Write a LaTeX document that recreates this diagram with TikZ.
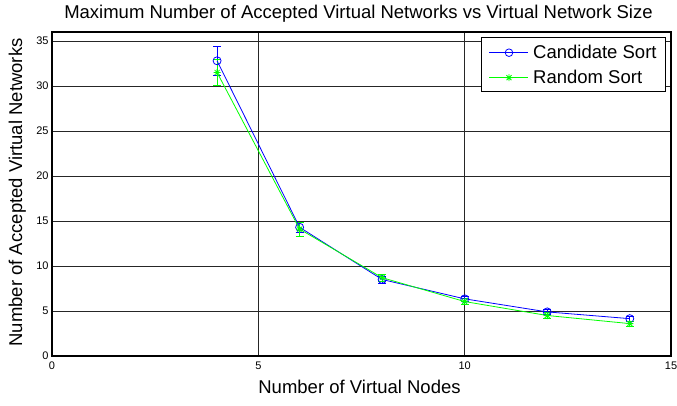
\documentclass[tikz,border=0pt]{standalone}
\usepackage{fontspec}
\setmainfont{Liberation Sans}
\begin{document}
\begin{tikzpicture}[x=1pt,y=1pt,
  gridline/.style={black!85,line width=0.6pt},
  frame/.style={black,line width=1.2pt},
  bl/.style={blue,line width=0.8pt},
  gr/.style={green,line width=0.8pt},
  ticklab/.style={font=\fontsize{11}{13}\selectfont, inner sep=0pt},
  biglab/.style={font=\fontsize{18.5}{21}\selectfont, inner sep=0pt}]
\useasboundingbox (0,0) rectangle (677,405);
\fill[white] (0,0) rectangle (677,405);
\begin{scope}[shift={(52,49)}, x=41.27pt, y=9pt]
  % grid
  \foreach \gx in {5,10} \draw[gridline] (\gx,0) -- (\gx,36);
  \foreach \gy in {5,10,...,35} \draw[gridline] (0,\gy) -- (15,\gy);
  % tick labels
  \foreach \ty in {0,5,...,35} \node[ticklab, anchor=east] (ty\ty) at (-0.08,\ty) {\ty};
  \foreach \tx in {0,5,10,15} \node[ticklab, anchor=north] (tx\tx) at (\tx,-0.62) {\tx};
  % data coordinates
  \foreach \px/\py/\pe [count=\i] in {4/32.8/1.6, 6/14.3/0.6, 8/8.5/0.4, 10/6.35/0.3, 12/4.9/0.3, 14/4.15/0.3} {
    \coordinate (b\i) at (\px,\py);
    \draw[bl] (\px,\py-\pe) -- (\px,\py+\pe);
    \draw[bl] ([xshift=-4pt]\px,\py+\pe) -- ([xshift=4pt]\px,\py+\pe);
    \draw[bl] ([xshift=-4pt]\px,\py-\pe) -- ([xshift=4pt]\px,\py-\pe);
  }
  \foreach \px/\py/\pe [count=\i] in {4/31.5/1.4, 6/14.1/0.8, 8/8.7/0.4, 10/6.05/0.3, 12/4.5/0.3, 14/3.6/0.3} {
    \coordinate (g\i) at (\px,\py);
    \draw[gr] (\px,\py-\pe) -- (\px,\py+\pe);
    \draw[gr] ([xshift=-4pt]\px,\py+\pe) -- ([xshift=4pt]\px,\py+\pe);
    \draw[gr] ([xshift=-4pt]\px,\py-\pe) -- ([xshift=4pt]\px,\py-\pe);
  }
  \draw[bl] (b1) -- (b2) -- (b3) -- (b4) -- (b5) -- (b6);
  \foreach \i in {1,...,6} \draw[bl] (b\i) circle[radius=4pt];
  \draw[gr] (g1) -- (g2) -- (g3) -- (g4) -- (g5) -- (g6);
  \foreach \i in {1,...,6}
    \draw[gr, shift={(g\i)}] (-3.5pt,0pt) -- (3.5pt,0pt) (0pt,-3.5pt) -- (0pt,3.5pt)
      (-2.5pt,-2.5pt) -- (2.5pt,2.5pt) (-2.5pt,2.5pt) -- (2.5pt,-2.5pt);
  % frame
  \draw[frame] (0,0) rectangle (15,36);
\end{scope}
% legend
\draw[black, line width=0.9pt, fill=white] (481.7,313.3) rectangle (665,367.3);
\coordinate (lb1) at (489,352.3); \coordinate (lb2) at (528,352.3); \coordinate (lbm) at (509,352.3);
\coordinate (lg1) at (489,327.3); \coordinate (lg2) at (528,327.3); \coordinate (lgm) at (509,327.3);
\draw[bl] (lb1) -- (lb2);
\draw[bl] (lbm) circle[radius=3.8pt];
\draw[gr] (lg1) -- (lg2);
\draw[gr, shift={(lgm)}] (-3.5pt,0pt) -- (3.5pt,0pt) (0pt,-3.5pt) -- (0pt,3.5pt)
  (-2.5pt,-2.5pt) -- (2.5pt,2.5pt) (-2.5pt,2.5pt) -- (2.5pt,-2.5pt);
\node[biglab, anchor=base west] (leg1) at (533,346) {Candidate Sort};
\node[biglab, anchor=base west] (leg2) at (533,321) {Random Sort};
% labels
\node[biglab, anchor=base] (title) at (358.5,386.3) {Maximum Number of Accepted Virtual Networks vs Virtual Network Size};
\node[biglab, anchor=base] (xlab) at (359.5,12) {Number of Virtual Nodes};
\node[biglab, anchor=base, rotate=90] (ylab) at (22,212.5) {Number of Accepted Virtual Networks};
\end{tikzpicture}
\end{document}
